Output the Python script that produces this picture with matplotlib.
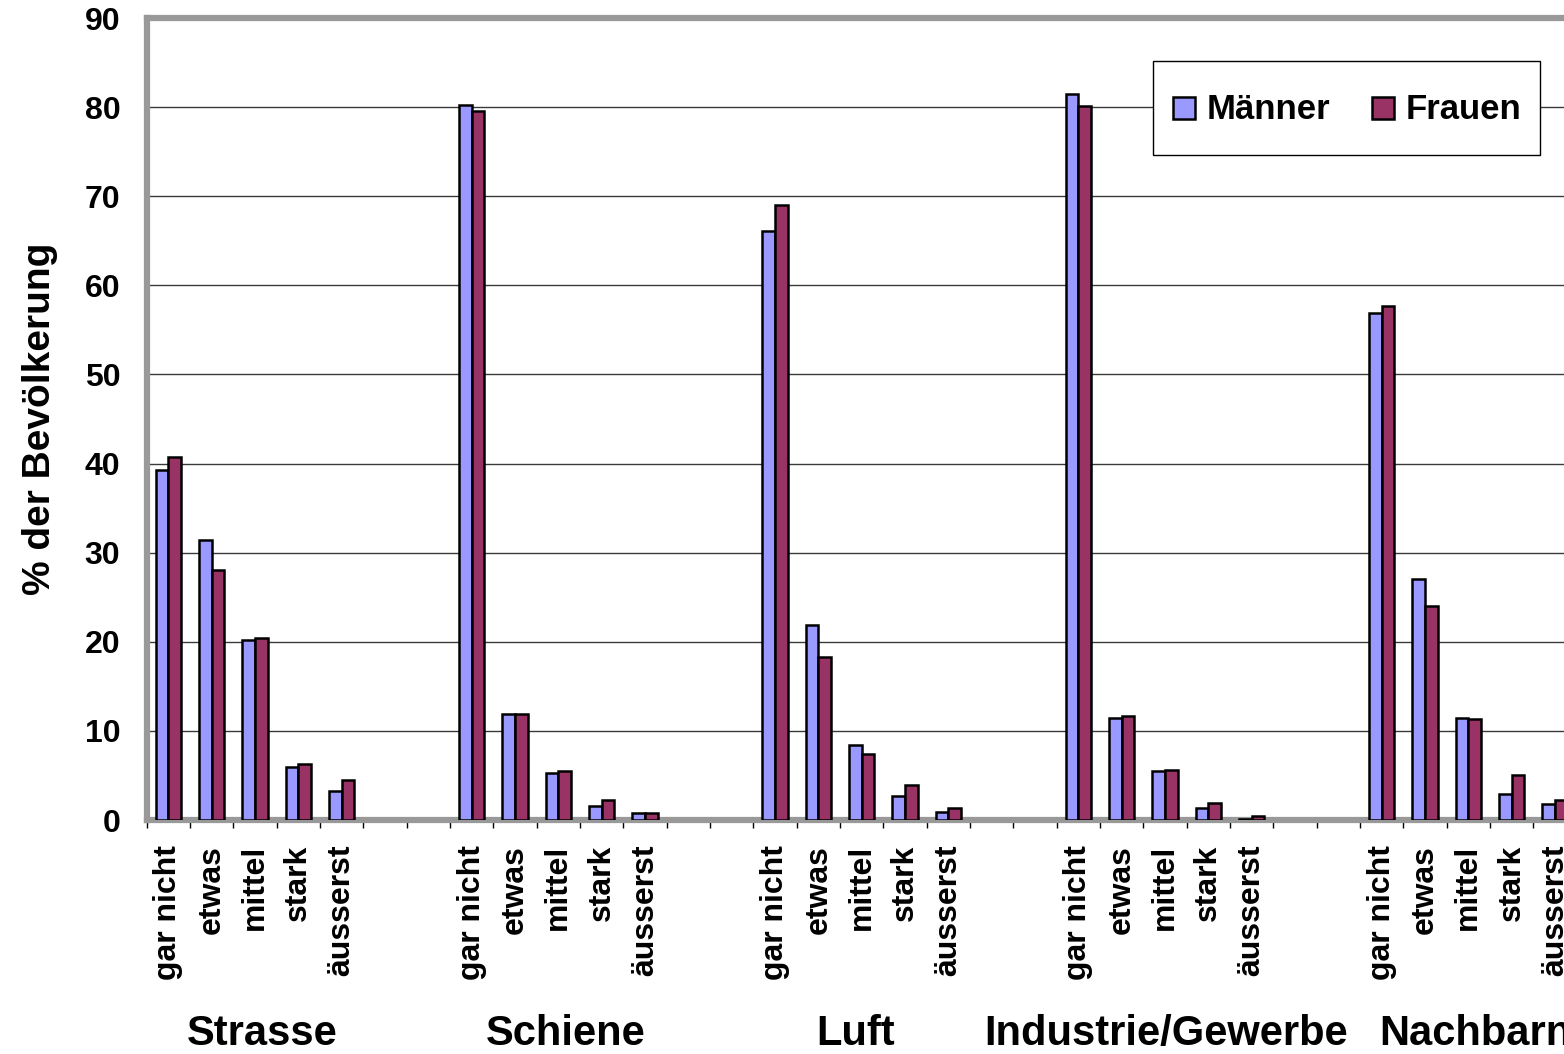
import matplotlib
matplotlib.use("Agg")
import matplotlib.pyplot as plt
import numpy as np
from matplotlib.patches import Rectangle
from matplotlib.container import BarContainer
from matplotlib.legend_handler import HandlerPatch, update_from_first_child
from matplotlib.transforms import blended_transform_factory

# ---- data -------------------------------------------------------------
groups = ["Strasse", "Schiene", "Luft", "Industrie/Gewerbe", "Nachbarn"]
levels = ["gar nicht", "etwas", "mittel", "stark", "äusserst"]

# % of population annoyed, per noise source (rows) and level (columns)
maenner = [
    [39.3, 31.4, 20.2, 5.9, 3.2],   # Strasse
    [80.2, 11.9, 5.3, 1.6, 0.8],    # Schiene
    [66.1, 21.9, 8.4, 2.7, 0.9],    # Luft
    [81.5, 11.5, 5.5, 1.3, 0.1],    # Industrie/Gewerbe
    [56.9, 27.0, 11.4, 2.9, 1.8],   # Nachbarn
]
frauen = [
    [40.7, 28.1, 20.4, 6.3, 4.5],
    [79.6, 11.9, 5.5, 2.2, 0.8],
    [69.0, 18.3, 7.4, 3.9, 1.4],
    [80.1, 11.7, 5.6, 1.9, 0.4],
    [57.7, 24.0, 11.3, 5.0, 2.2],
]
series_labels = ["Männer", "Frauen"]
y_ticks = [0, 10, 20, 30, 40, 50, 60, 70, 80, 90]

# ---- style ------------------------------------------------------------
plt.rcParams["font.family"] = ["Liberation Sans", "DejaVu Sans"]
plt.rcParams["font.weight"] = "bold"
plt.rcParams["axes.labelweight"] = "bold"

C_M = "#9999FF"
C_F = "#993366"
FRAME = "#999999"

W, H = 1564, 1054
fig = plt.figure(figsize=(W / 100, H / 100), dpi=100)

slots_per_group = 7           # 5 categories + 2 empty slots
n_slots = 33
slot_px = 43.33
left_px, bottom_px, top_px = 146.7, 820, 18
ax = fig.add_axes([left_px / W, 1 - bottom_px / H,
                   n_slots * slot_px / W, (bottom_px - top_px) / H])

centers = np.array([g * slots_per_group + k
                    for g in range(len(groups))
                    for k in range(len(levels))]) + 0.5
m_vals = np.concatenate(maenner)
f_vals = np.concatenate(frauen)

bw = 0.293
ax.bar(centers - bw / 2, m_vals, bw, color=C_M, edgecolor="black",
       linewidth=1.8, label=series_labels[0], zorder=3)
ax.bar(centers + bw / 2, f_vals, bw, color=C_F, edgecolor="black",
       linewidth=1.8, label=series_labels[1], zorder=3)

ax.set_xlim(0, n_slots)
ax.set_ylim(0, 90)

# y axis
ax.set_yticks(y_ticks)
ax.tick_params(axis="y", length=0, pad=19, labelsize=23)
ax.yaxis.grid(True, color="#3a3a3a", linewidth=1.0)
ax.set_axisbelow(True)
ax.set_ylabel("% der Bevölkerung", fontsize=28, fontweight="bold",
              labelpad=19)

# x axis: slot boundaries carry tick marks, slot centres carry labels
ax.set_xticks(np.arange(0, n_slots + 1))
ax.set_xticklabels([])
ax.tick_params(axis="x", which="major", length=6, width=1.0,
               color="black", direction="out")
ax.set_xticks(centers, minor=True)
ax.set_xticklabels(levels * len(groups), minor=True, rotation=90,
                   fontsize=23)
ax.tick_params(axis="x", which="minor", length=0, pad=18)

for s in ax.spines.values():
    s.set_color(FRAME)
    s.set_linewidth(4.5)

# group names below the category labels
group_x = [2.66, 9.68, 16.37, 23.52, 30.66]
tr = blended_transform_factory(ax.transData, fig.transFigure)
for gx, name in zip(group_x, groups):
    ax.text(gx, 1 - 1045 / H, name, transform=tr, ha="center",
            va="baseline", fontsize=30, clip_on=False)


# legend with small square swatches
def square_patch(legend, orig_handle, xdescent, ydescent, width, height,
                 fontsize):
    s = 15.8
    return Rectangle((-xdescent + (width - s) / 2,
                      -ydescent + (height - s) / 2), s, s)


leg = ax.legend(loc="upper right",
                bbox_to_anchor=(1540 / W, 1 - 61 / H),
                bbox_transform=fig.transFigure, borderaxespad=0,
                ncol=2, fontsize=25, frameon=True, fancybox=False,
                framealpha=1, edgecolor="black",
                handlelength=0.67, handleheight=2.1, handletextpad=0.3,
                columnspacing=1.2, borderpad=0.55,
                handler_map={BarContainer: HandlerPatch(
                    patch_func=square_patch,
                    update_func=update_from_first_child)})
leg.get_frame().set_linewidth(1.0)
leg.set_zorder(5)

fig.savefig("out.png", dpi=100)
